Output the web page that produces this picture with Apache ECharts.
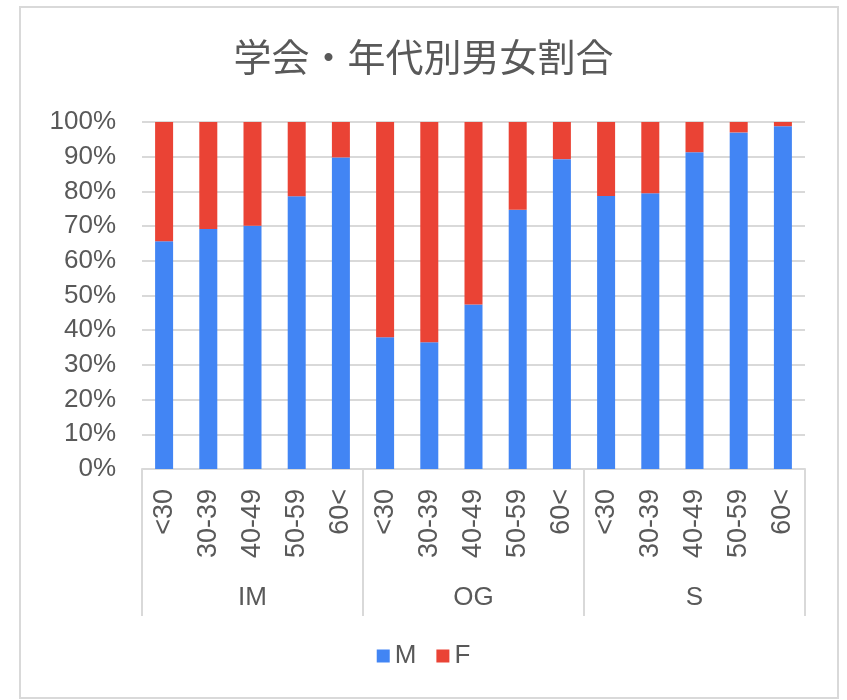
<!DOCTYPE html>
<html>
<head>
<meta charset="utf-8">
<script src="https://cdn.jsdelivr.net/npm/echarts@6/dist/echarts.min.js"></script>
<style>
html,body{margin:0;padding:0;background:#fff;}
#c{width:847px;height:700px;}
</style>
</head>
<body>
<div id="c"></div>
<script>
const titleText = '学会・年代別男女割合';
const ageGroups = ['<30', '30-39', '40-49', '50-59', '60<'];
const societies = ['IM', 'OG', 'S'];
const categories = ['<30', '30-39', '40-49', '50-59', '60<',
                    '<30', '30-39', '40-49', '50-59', '60<',
                    '<30', '30-39', '40-49', '50-59', '60<'];
const maleShare   = [65.6, 69.2, 70.1, 78.6, 89.8,
                     38.0, 36.5, 47.4, 74.7, 89.3,
                     78.7, 79.5, 91.3, 97.0, 98.8];
const femaleShare = [34.4, 30.8, 29.9, 21.4, 10.2,
                     62.0, 63.5, 52.6, 25.3, 10.7,
                     21.3, 20.5,  8.7,  3.0,  1.2];
const yTicks = [0, 10, 20, 30, 40, 50, 60, 70, 80, 90, 100];

const numFont = '"Liberation Sans", Arial, "Noto Sans", sans-serif';
const txtColor = '#595959';
const lineColor = '#d9d9d9';

const chart = echarts.init(document.getElementById('c'), null, {renderer: 'canvas'});
chart.setOption({
  animation: false,
  backgroundColor: '#fff',
  title: {
    text: titleText,
    left: 'center',
    top: 33,
    textStyle: {
      fontFamily: '"Noto Sans CJK JP", sans-serif',
      fontSize: 38,
      fontWeight: 'normal',
      color: txtColor
    }
  },
  graphic: [{
    type: 'rect',
    shape: {x: 20, y: 7, width: 818, height: 691},
    style: {fill: 'none', stroke: lineColor, lineWidth: 2},
    silent: true,
    z: -1
  }],
  legend: {
    data: ['M', 'F'],
    bottom: 26,
    left: 'center',
    icon: 'rect',
    itemWidth: 13,
    itemHeight: 13,
    itemGap: 20,
    textStyle: {fontFamily: numFont, fontSize: 26, color: txtColor, padding: [0,0,0,0]}
  },
  grid: {left: 142, right: 42, top: 122, bottom: 231, containLabel: false},
  xAxis: [{
    type: 'category',
    data: categories,
    axisLine: {show: true, lineStyle: {color: lineColor, width: 2}},
    axisTick: {show: false},
    axisLabel: {
      rotate: 90,
      interval: 0,
      margin: 20,
      fontFamily: numFont,
      fontSize: 27,
      color: txtColor
    },
    splitLine: {show: false}
  }, {
    type: 'category',
    data: societies,
    position: 'bottom',
    axisLine: {show: false},
    axisTick: {show: true, length: 147, lineStyle: {color: lineColor, width: 2}},
    axisLabel: {
      margin: 116,
      fontFamily: numFont,
      fontSize: 26,
      color: txtColor
    },
    splitLine: {show: false}
  }],
  yAxis: {
    type: 'value',
    min: 0,
    max: 100,
    interval: 10,
    axisLine: {show: false},
    axisTick: {show: false},
    axisLabel: {
      formatter: v => v + '%',
      margin: 26,
      fontFamily: numFont,
      fontSize: 26,
      color: txtColor
    },
    splitLine: {show: true, lineStyle: {color: lineColor, width: 2}}
  },
  series: [{
    name: 'M',
    type: 'bar',
    stack: 'total',
    data: maleShare,
    barWidth: 18,
    itemStyle: {color: '#4285F4'}
  }, {
    name: 'F',
    type: 'bar',
    stack: 'total',
    data: femaleShare,
    barWidth: 18,
    itemStyle: {color: '#EA4335'}
  }]
});
</script>
</body>
</html>
